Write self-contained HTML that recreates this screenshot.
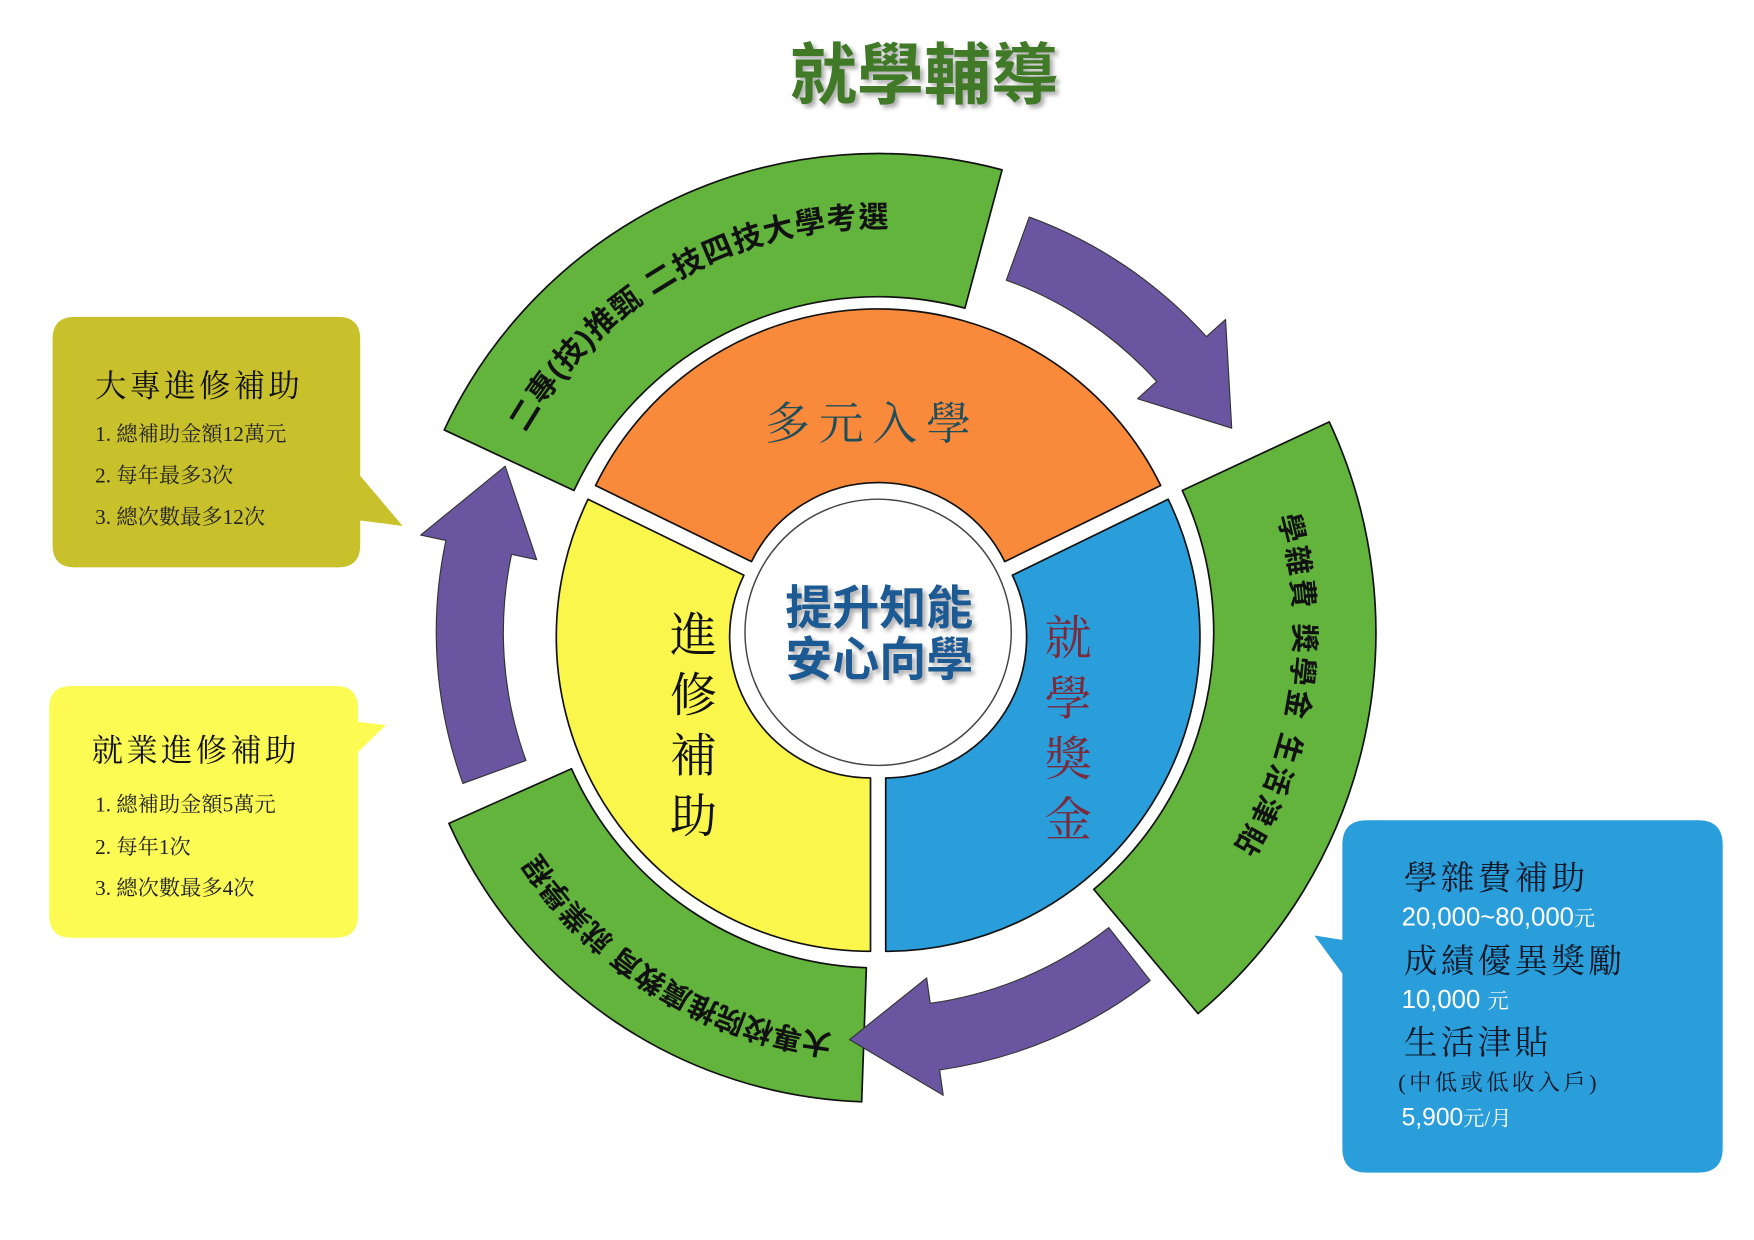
<!DOCTYPE html>
<html><head><meta charset="utf-8">
<style>
html,body{margin:0;padding:0;background:#fff;}
svg{display:block}
.serif{font-family:"Liberation Serif","Noto Serif CJK SC",serif}
.sans{font-family:"Liberation Sans","Noto Sans CJK TC",sans-serif}
</style></head><body>
<svg id="s" width="1754" height="1240" viewBox="0 0 1568 1108" xmlns="http://www.w3.org/2000/svg">
<defs>
<filter id="sh" x="-10%" y="-10%" width="130%" height="140%"><feDropShadow dx="3" dy="3" stdDeviation="2" flood-color="#999" flood-opacity="0.8"/></filter>
<path id="tp" d="M785,565 m-362,0 a362,362 0 1,1 724,0 a362,362 0 1,1 -724,0"/>
<path id="tpr" d="M785,565 m0,-372 a372,372 0 1,1 0,744 a372,372 0 1,1 0,-744"/>
<path id="tpb" d="M785,565 m362,0 a362,362 0 1,1 -724,0 a362,362 0 1,1 724,0"/>
</defs>
<g id="g"></g>
<text x="826" y="88" text-anchor="middle" class="sans" font-weight="bold" font-size="60" fill="#3f7a26" filter="url(#sh)">就學輔導</text>

<path d="M67,283 H302 Q322,283 322,303 V425 L360,470 L322,465 V487 Q322,507 302,507 H67 Q47,507 47,487 V303 Q47,283 67,283Z" fill="#c9c12b"/>
<text x="85" y="354" class="serif" font-size="28" letter-spacing="3" fill="#111">大專進修補助</text>
<text x="85" y="394" class="serif" font-size="19" fill="#222">1. 總補助金額12萬元</text>
<text x="85" y="431" class="serif" font-size="19" fill="#222">2. 每年最多3次</text>
<text x="85" y="468" class="serif" font-size="19" fill="#222">3. 總次數最多12次</text>

<path d="M64,613 H300 Q320,613 320,633 V645 L345,648 L320,672 V818 Q320,838 300,838 H64 Q44,838 44,818 V633 Q44,613 64,613Z" fill="#fbfb54"/>
<text x="82" y="680" class="serif" font-size="28" letter-spacing="3" fill="#111">就業進修補助</text>
<text x="85" y="725" class="serif" font-size="19" fill="#222">1. 總補助金額5萬元</text>
<text x="85" y="763" class="serif" font-size="19" fill="#222">2. 每年1次</text>
<text x="85" y="800" class="serif" font-size="19" fill="#222">3. 總次數最多4次</text>

<path d="M1222,733 H1518 Q1540,733 1540,755 V1026 Q1540,1048 1518,1048 H1222 Q1200,1048 1200,1026 V870 L1175,836 L1200,840 V755 Q1200,733 1222,733Z" fill="#2a9ddb"/>
<text x="1255" y="795" class="serif" font-size="30" letter-spacing="3" fill="#101a28">學雜費補助</text>
<text x="1253" y="827" class="sans" font-size="23" fill="#fff">20,000~80,000<tspan class="serif" font-size="19">元</tspan></text>
<text x="1255" y="869" class="serif" font-size="30" letter-spacing="3" fill="#101a28">成績優異獎勵</text>
<text x="1253" y="901" class="sans" font-size="23" fill="#fff">10,000 <tspan class="serif" font-size="19">元</tspan></text>
<text x="1255" y="942" class="serif" font-size="30" letter-spacing="3" fill="#101a28">生活津貼</text>
<text x="1250" y="974" class="serif" font-size="20" letter-spacing="3" fill="#101a28">(中低或低收入戶)</text>
<text x="1253" y="1006" class="sans" font-size="22" fill="#fff">5,900<tspan class="serif" font-size="19">元/月</tspan></text>
</svg>
<script>
var cx=785,cy=565,g=document.getElementById('g'),NS='http://www.w3.org/2000/svg';
function Q(ox,oy,r,a){a=a*Math.PI/180;return (ox+r*Math.cos(a)).toFixed(1)+','+(oy+r*Math.sin(a)).toFixed(1);}
function P(r,a){return Q(cx,cy,r,a);}
function band(r0,r1,a0,a1,ox,oy){ox=ox||cx;oy=oy||cy;var l=(a1-a0)>180?1:0;return 'M'+Q(ox,oy,r1,a0)+' A'+r1+','+r1+' 0 '+l+',1 '+Q(ox,oy,r1,a1)+' L'+Q(ox,oy,r0,a1)+' A'+r0+','+r0+' 0 '+l+',0 '+Q(ox,oy,r0,a0)+'Z';}
function add(d,fill,stroke,sw){var p=document.createElementNS(NS,'path');p.setAttribute('d',d);p.setAttribute('fill',fill);p.setAttribute('stroke',stroke||'none');p.setAttribute('stroke-width',sw||0);p.setAttribute('stroke-linejoin','round');g.appendChild(p);}
add(band(300,428,205,285),'#62b43c','#111',1.5);
add(band(300,445,335,410),'#62b43c','#111',1.5);
add(band(300,420,92,156),'#62b43c','#111',1.5);
function arrow(a0,a1){var h=a1-12;var d='M'+P(395,a0)+' A395,395 0 0,1 '+P(395,h)+' L'+P(418,h)+' L'+P(365,a1)+' L'+P(312,h)+' L'+P(335,h)+' A335,335 0 0,0 '+P(335,a0)+'Z';add(d,'#6a55a0','#333',1);}
arrow(290,330);arrow(52,94);arrow(160,204);
var secs=[[206,334,'#f98a3c'],[334,450,'#2a9ddb'],[90,206,'#faf64c']];
secs.forEach(function(s){var m=(s[0]+s[1])/2*Math.PI/180;var ox=cx+8*Math.cos(m),oy=cy+8*Math.sin(m);
 add(band(126,281,s[0],s[1],ox,oy),s[2],'#111',1.5);});
var c=document.createElementNS(NS,'circle');c.setAttribute('cx',cx);c.setAttribute('cy',cy);c.setAttribute('r',119);c.setAttribute('fill','#fff');c.setAttribute('stroke','#444');c.setAttribute('stroke-width',1.3);g.appendChild(c);
g.insertAdjacentHTML('beforeend',
'<text class="sans" font-weight="bold" font-size="27" letter-spacing="1" fill="#111"><textPath href="#tp" startOffset="8.2%">二專(技)推甄 二技四技大學考選</textPath></text>'+
'<text class="sans" font-weight="bold" font-size="26" letter-spacing="3" fill="#111"><textPath href="#tpr" startOffset="20.5%">學雜費 獎學金 生活津貼</textPath></text>'+
'<text class="sans" font-weight="bold" font-size="26" fill="#111"><textPath href="#tpb" startOffset="26.8%">大專校院推廣教育 就業學程</textPath></text>'+
'<text x="780" y="392" text-anchor="middle" class="serif" font-size="40" letter-spacing="8" fill="#1f4e5a">多元入學</text>'+
'<g class="serif" font-size="42" fill="#111" text-anchor="middle"><text x="620" y="582">進</text><text x="620" y="636">修</text><text x="620" y="690">補</text><text x="620" y="744">助</text></g>'+
'<g class="serif" font-size="42" fill="#7a2a3a" text-anchor="middle"><text x="955" y="585">就</text><text x="955" y="639">學</text><text x="955" y="693">獎</text><text x="955" y="747">金</text></g>'+
'<g class="sans" font-weight="bold" font-size="42" fill="#1f5a94" text-anchor="middle" filter="url(#sh)"><text x="786" y="558">提升知能</text><text x="786" y="604">安心向學</text></g>');
</script>
</body></html>
